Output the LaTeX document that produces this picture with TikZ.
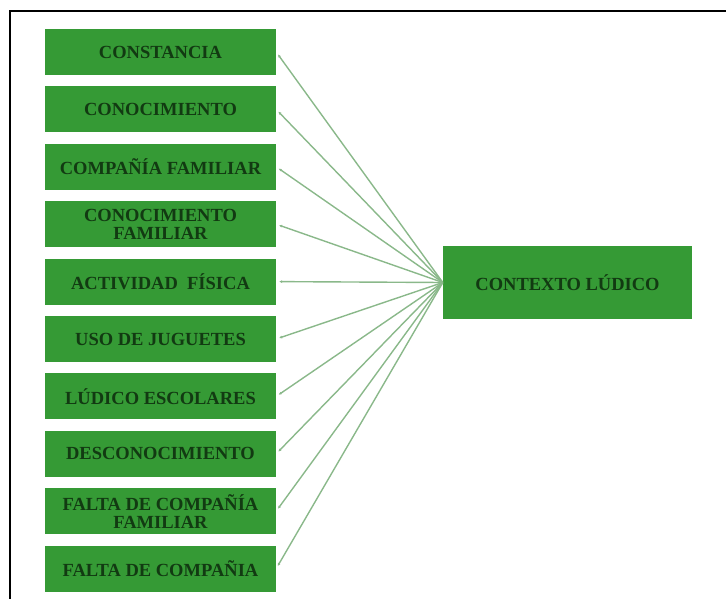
\documentclass[tikz,border=0pt]{standalone}
\usepackage{fontspec}
\setmainfont{Liberation Serif}
\definecolor{boxgreen}{HTML}{359A35}
\definecolor{textgreen}{HTML}{123A12}
\definecolor{linkgreen}{HTML}{8AB88A}
\tikzset{
  itembox/.style={fill=boxgreen, minimum width=231pt, minimum height=46pt, inner sep=0pt,
    align=center, text=textgreen, font=\bfseries\fontsize{18.5}{18}\selectfont},
  mainbox/.style={itembox, minimum width=249pt, minimum height=73pt},
  link/.style={linkgreen, line width=1.4pt, -{Latex[length=3pt,width=3pt]}, shorten >=3pt}
}
\usetikzlibrary{arrows.meta}
\begin{document}
\begin{tikzpicture}[x=1pt, y=-1pt]
  \useasboundingbox (0,0) rectangle (726,599);
  % Frame (cut off at right and bottom)
  \draw[line width=1.5pt] (10,599) -- (10,11) -- (726,11);

  % Central node
  \node[mainbox] (ctx) at (567.5,282.5) {CONTEXTO LÚDICO};

  % Left column of items
  \foreach \i/\txt in {0/CONSTANCIA, 1/CONOCIMIENTO, 2/COMPAÑÍA FAMILIAR,
      3/{CONOCIMIENTO\\FAMILIAR}, 4/ACTIVIDAD\ \ FÍSICA, 5/USO DE JUGUETES,
      6/LÚDICO ESCOLARES, 7/DESCONOCIMIENTO, 8/{FALTA DE COMPAÑÍA\\FAMILIAR},
      9/FALTA DE COMPAÑIA} {
    \node[itembox] (item\i) at (160.5,52+57.4*\i) {\txt};
    \draw[link] (ctx.west) -- (item\i.east);
  }
\end{tikzpicture}
\end{document}
